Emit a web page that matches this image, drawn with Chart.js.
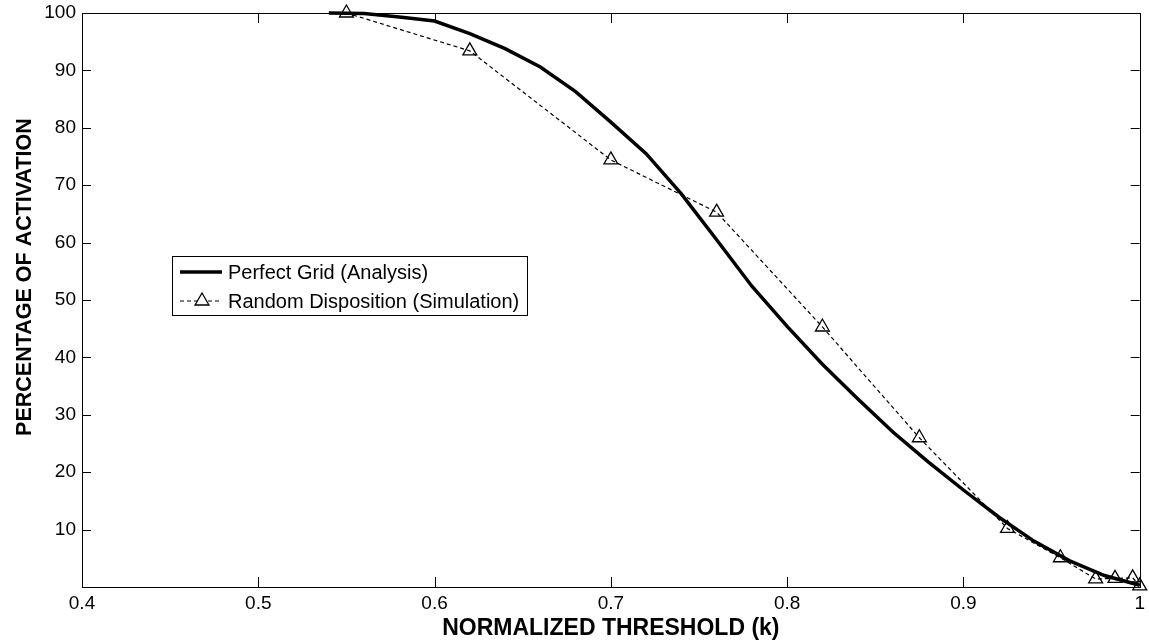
<!DOCTYPE html>
<html>
<head>
<meta charset="utf-8">
<script src="https://cdn.jsdelivr.net/npm/chart.js@4/dist/chart.umd.min.js"></script>
<style>
html, body { margin: 0; padding: 0; background: #fff; }
canvas { display: block; }
</style>
</head>
<body>
<canvas id="chart" width="1149" height="643"></canvas>
<script>
// Perfect Grid (Analysis)
const gridX = [0.54, 0.56, 0.58, 0.60, 0.62, 0.64, 0.66, 0.68, 0.70, 0.72, 0.74, 0.76, 0.78, 0.80, 0.82, 0.84, 0.86, 0.88, 0.90, 0.92, 0.94, 0.96, 0.98, 1.00];
const gridY = [100, 99.9, 99.3, 98.6, 96.4, 93.8, 90.6, 86.3, 81.0, 75.5, 68.5, 60.5, 52.4, 45.4, 38.8, 32.8, 27.0, 21.8, 16.9, 12.2, 8.0, 4.6, 2.0, 0.3];

// Random Disposition (Simulation)
const simX = [0.55, 0.62, 0.70, 0.76, 0.82, 0.875, 0.925, 0.955, 0.975, 0.986, 0.996, 1.00];
const simY = [100, 93.4, 74.4, 65.3, 45.3, 26.0, 10.2, 5.1, 1.4, 1.5, 1.6, 0.2];

const xTicks = [0.4, 0.5, 0.6, 0.7, 0.8, 0.9, 1];
const yTicks = [10, 20, 30, 40, 50, 60, 70, 80, 90, 100];

const seriesNames = ["Perfect Grid (Analysis)", "Random Disposition (Simulation)"];
const xTitle = "NORMALIZED THRESHOLD (k)";
const yTitle = "PERCENTAGE OF ACTIVATION";

const FONT = "'Liberation Sans', Arial, sans-serif";

const toPts = (xs, ys) => xs.map((x, i) => ({ x: x, y: ys[i] }));

// box, inward ticks, legend and axis titles
const matlabLook = {
    id: "matlabLook",
    afterDatasetsDraw(chart) {
        const ctx = chart.ctx;
        const a = chart.chartArea;
        const xs = chart.scales.x, ys = chart.scales.y;
        ctx.save();
        ctx.strokeStyle = "#000";
        ctx.lineWidth = 1;

        // ticks
        ctx.beginPath();
        xTicks.forEach(v => {
            if (v <= xs.min || v >= xs.max) return;
            const px = Math.round(xs.getPixelForValue(v)) + 0.5;
            ctx.moveTo(px, a.bottom); ctx.lineTo(px, a.bottom - 10);
            ctx.moveTo(px, a.top); ctx.lineTo(px, a.top + 10);
        });
        yTicks.forEach(v => {
            if (v <= ys.min || v >= ys.max) return;
            const py = Math.round(ys.getPixelForValue(v)) + 0.5;
            ctx.moveTo(a.left, py); ctx.lineTo(a.left + 9, py);
            ctx.moveTo(a.right, py); ctx.lineTo(a.right - 9, py);
        });
        ctx.stroke();

        // box
        ctx.strokeRect(Math.round(a.left) + 0.5, Math.round(a.top) + 0.5,
            Math.round(a.right - a.left), Math.round(a.bottom - a.top));

        // legend
        const lx = a.left + 90, ly = a.top + 243, lw = 355, lh = 59;
        ctx.fillStyle = "#fff";
        ctx.fillRect(lx, ly, lw, lh);
        ctx.strokeStyle = "#000";
        ctx.strokeRect(lx + 0.5, ly + 0.5, lw, lh);

        ctx.font = "20px " + FONT;
        ctx.textBaseline = "middle";
        ctx.textAlign = "left";

        const r1 = ly + 16, r2 = ly + 45;
        ctx.lineWidth = 3.5;
        ctx.setLineDash([]);
        ctx.beginPath();
        ctx.moveTo(lx + 8, r1); ctx.lineTo(lx + 50, r1);
        ctx.stroke();

        ctx.lineWidth = 1.2;
        ctx.setLineDash([4, 3]);
        ctx.beginPath();
        ctx.moveTo(lx + 8, r2); ctx.lineTo(lx + 50, r2);
        ctx.stroke();
        ctx.setLineDash([]);
        ctx.lineWidth = 1.3;
        ctx.fillStyle = "#fff";
        Chart.helpers.drawPoint(ctx, { pointStyle: "triangle", radius: 8, rotation: 0, borderWidth: 1.3 }, lx + 30, r2);

        ctx.fillStyle = "#000";
        ctx.fillText(seriesNames[0], lx + 56, r1 + 1);
        ctx.fillText(seriesNames[1], lx + 56, r2 + 1);

        // axis titles
        ctx.font = "bold 23px " + FONT;
        ctx.textAlign = "center";
        ctx.fillText(xTitle, (a.left + a.right) / 2, 629);

        ctx.save();
        ctx.translate(25, ys.getPixelForValue(54));
        ctx.rotate(-Math.PI / 2);
        ctx.font = "bold 21.5px " + FONT;
        ctx.fillText(yTitle, 0, 0);
        ctx.restore();

        ctx.restore();
    }
};

const ctx = document.getElementById("chart").getContext("2d");

new Chart(ctx, {
    type: "scatter",
    data: {
        datasets: [
            {
                label: seriesNames[0],
                data: toPts(gridX, gridY),
                showLine: true,
                borderColor: "#000",
                borderWidth: 3.5,
                pointRadius: 0,
                tension: 0,
                clip: false
            },
            {
                label: seriesNames[1],
                data: toPts(simX, simY),
                showLine: true,
                borderColor: "#000",
                borderWidth: 1.2,
                borderDash: [4, 3],
                pointStyle: "triangle",
                pointRadius: 8,
                pointBorderWidth: 1.3,
                pointBorderColor: "#000",
                pointBackgroundColor: "rgba(255,255,255,0)",
                tension: 0,
                clip: false
            }
        ]
    },
    options: {
        responsive: false,
        animation: false,
        devicePixelRatio: 1,
        layout: { padding: { top: 13, right: 9, left: 0, bottom: 0 } },
        plugins: {
            legend: { display: false },
            tooltip: { enabled: false }
        },
        scales: {
            x: {
                type: "linear",
                min: 0.4,
                max: 1,
                afterFit: s => { s.height = 56; s.paddingLeft = 0; s.paddingRight = 0; },
                afterBuildTicks: s => { s.ticks = xTicks.map(v => ({ value: v })); },
                ticks: {
                    color: "#000",
                    font: { family: FONT, size: 19 },
                    padding: 5,
                    maxRotation: 0,
                    callback: v => String(+v.toFixed(2))
                },
                grid: { display: false, drawTicks: false },
                border: { display: false }
            },
            y: {
                min: 0,
                max: 100,
                afterFit: s => { s.width = 82; s.paddingTop = 0; s.paddingBottom = 0; },
                afterBuildTicks: s => { s.ticks = yTicks.map(v => ({ value: v })); },
                ticks: {
                    color: "#000",
                    font: { family: FONT, size: 19 },
                    padding: 6,
                    callback: v => String(v)
                },
                grid: { display: false, drawTicks: false },
                border: { display: false }
            }
        }
    },
    plugins: [matlabLook]
});
</script>
</body>
</html>
